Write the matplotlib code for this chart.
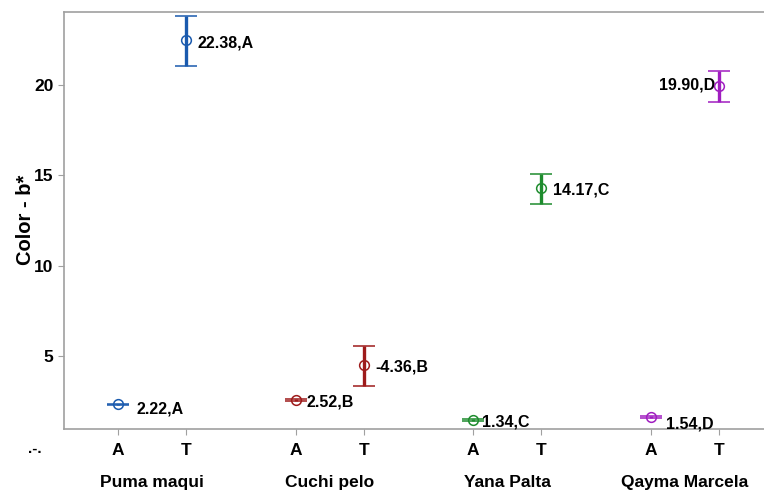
import matplotlib
matplotlib.use("Agg")
import matplotlib.pyplot as plt

plt.rcParams['font.family'] = ['Liberation Sans', 'DejaVu Sans']
plt.rcParams['font.weight'] = 'bold'

# data
groups = ["Puma maqui", "Cuchi pelo", "Yana Palta", "Qayma Marcela"]
subgroups = ["A", "T"]
means = [2.32, 22.45, 2.58, 4.50, 1.45, 14.30, 1.64, 19.92]
err_low = [0.05, 1.40, 0.05, 1.15, 0.05, 0.90, 0.05, 0.90]
err_high = [0.05, 1.35, 0.05, 1.05, 0.05, 0.75, 0.05, 0.85]
labels = ["2.22,A", "22.38,A", "2.52,B", "-4.36,B",
          "1.34,C", "14.17,C", "1.54,D", "19.90,D"]
colors = ["#1a5aae", "#9e1b1b", "#1e8c2e", "#a01ec0"]

# label offsets in points, and alignment
offsets = [(13.5, -3), (8, -2), (8, -1.5), (8, -1.5),
           (6.5, -1), (8.5, -1.5), (11, -5), (-3, 0.5)]
aligns = ["left"] * 7 + ["right"]

group_step = 2.6
xpos = []
for g in range(len(groups)):
    for s in range(len(subgroups)):
        xpos.append(g * group_step + s)

fig = plt.figure(figsize=(7.64, 4.92), dpi=100)
ax = fig.add_axes([0.0838, 0.1287, 0.9162, 0.8469])

for i, x in enumerate(xpos):
    c = colors[i // 2]
    ax.errorbar(x, means[i], yerr=[[err_low[i]], [err_high[i]]], fmt='o',
                mfc='none', mec=c, ms=7, mew=1.1, ecolor=c,
                elinewidth=2.4, capsize=8, capthick=2.4, zorder=3)
    ax.annotate(labels[i], (x, means[i]), xytext=offsets[i],
                textcoords='offset points', ha=aligns[i], va='center',
                fontsize=11.5, fontweight='bold')

ax.set_xlim(-0.79, xpos[-1] + 0.66)
ax.set_ylim(0.98, 24.02)
ax.set_yticks([5, 10, 15, 20])
ax.set_xticks(xpos)
ax.set_xticklabels(subgroups * len(groups), fontsize=12.5, fontweight='bold')
ax.tick_params(axis='y', labelsize=12.5, color='#a0a0a0', length=4)
ax.tick_params(axis='x', color='#a0a0a0', length=4, pad=6)
for lab in ax.get_yticklabels():
    lab.set_fontweight('bold')

for side in ['left', 'top', 'bottom']:
    ax.spines[side].set_color('#a0a0a0')
    ax.spines[side].set_linewidth(1.2)
ax.spines['right'].set_visible(False)

ax.set_ylabel("Color - b*", fontsize=14.5, fontweight='bold', labelpad=-1)

for g, name in enumerate(groups):
    ax.text(g * group_step + 0.5, -0.13, name, transform=ax.get_xaxis_transform(),
            ha='center', va='center', fontsize=12.5, fontweight='bold')
fig.text(35 / 764, 1 - 449 / 492, ".-.", ha='center', va='center',
         fontsize=11, fontweight='bold')

fig.savefig("out.png", dpi=100)
